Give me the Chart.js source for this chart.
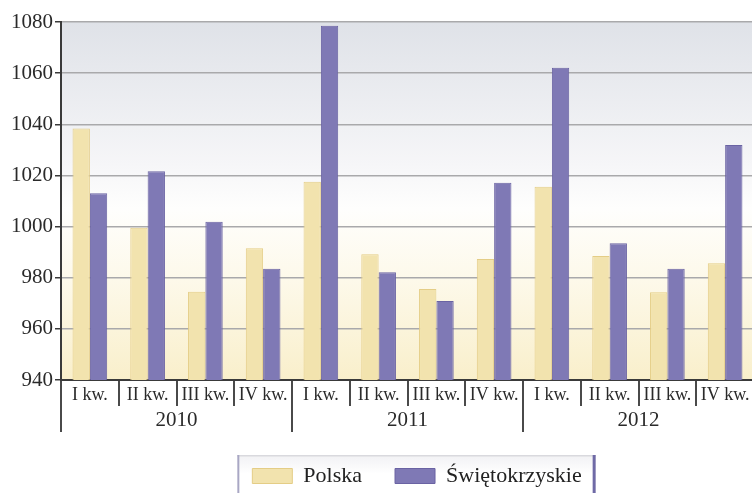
<!DOCTYPE html>
<html><head><meta charset="utf-8">
<script src="https://cdn.jsdelivr.net/npm/chart.js@4/dist/chart.umd.min.js"></script>
<style>
html,body{margin:0;padding:0;background:#fff;overflow:hidden;width:752px;height:493px;}
#wrap{position:relative;width:834px;height:497px;}
</style></head><body>
<div id="wrap"><canvas id="c" width="834" height="497"></canvas></div>
<script>
const quarters = ['I kw.','II kw.','III kw.','IV kw.','I kw.','II kw.','III kw.','IV kw.','I kw.','II kw.','III kw.','IV kw.'];
const years = ['2010','2011','2012'];
const polska = [1038.4, 999.5, 974.5, 991.5, 1017.5, 989.2, 975.6, 987.3, 1015.6, 988.5, 974.3, 985.7];
const swietokrzyskie = [1013.0, 1021.6, 1001.9, 983.5, 1078.5, 982.1, 970.9, 1017.1, 1062.1, 993.5, 983.5, 1031.9];
const yMin = 940, yMax = 1080, yStep = 20;

Chart.defaults.font.family = '"Liberation Serif", "Times New Roman", serif';
Chart.defaults.color = '#2a2a2a';

const bgPlugin = {
  id: 'bg',
  beforeDraw(chart) {
    const {ctx, chartArea: a} = chart;
    ctx.save();
    const g = ctx.createLinearGradient(0, a.top, 0, a.bottom);
    g.addColorStop(0, '#dfe2e8');
    g.addColorStop(0.4, '#f6f6f8');
    g.addColorStop(0.52, '#fefefd');
    g.addColorStop(0.72, '#fdf9ea');
    g.addColorStop(1, '#f9efcb');
    ctx.fillStyle = g;
    ctx.fillRect(a.left, a.top, a.right - a.left, a.bottom - a.top);
    const lg = chart.legend;
    if (lg && lg.legendHitBoxes && lg.legendHitBoxes.length) {
      const hb = lg.legendHitBoxes;
      const first = hb[0], last = hb[hb.length - 1];
      const x0 = first.left - 15, y0 = first.top - 10;
      const x1 = last.left + last.width + 14, y1 = chart.height + 5;
      const lgF = ctx.createLinearGradient(0, y0, 0, y1);
      lgF.addColorStop(0, '#f1f1f4');
      lgF.addColorStop(0.4, '#ffffff');
      lgF.addColorStop(1, '#ffffff');
      ctx.fillStyle = lgF;
      ctx.fillRect(x0, y0, x1 - x0, y1 - y0);
      ctx.fillStyle = '#d9d9de';
      ctx.fillRect(x0, y0, x1 - x0, 1.5);
      ctx.fillStyle = '#a9a7c4';
      ctx.fillRect(x0, y0, 2, y1 - y0);
      ctx.fillStyle = '#6f6aa6';
      ctx.fillRect(x1 - 3, y0, 3, y1 - y0);
    }
    ctx.restore();
  }
};

new Chart(document.getElementById('c'), {
  type: 'bar',
  data: {
    labels: quarters,
    datasets: [
      { label: 'Polska', data: polska, backgroundColor: '#f2e3ae', borderColor: '#e4cd86', borderWidth: 1,
        categoryPercentage: 0.6, barPercentage: 1.0, xAxisID: 'x', yAxisID: 'y' },
      { label: 'Świętokrzyskie', data: swietokrzyskie, backgroundColor: '#7f79b5', borderColor: '#6a63a3', borderWidth: 1,
        categoryPercentage: 0.6, barPercentage: 1.0, xAxisID: 'x', yAxisID: 'y' }
    ]
  },
  options: {
    responsive: false,
    animation: false,
    devicePixelRatio: 1,
    layout: { padding: { top: 22, left: 0, right: 0, bottom: 0 } },
    plugins: {
      tooltip: { enabled: false },
      legend: {
        position: 'bottom',
        align: 'center',
        labels: {
          boxWidth: 40, boxHeight: 15, padding: 33,
          font: { size: 22 }, color: '#222'
        }
      }
    },
    scales: {
      x: {
        type: 'category',
        position: 'bottom',
        weight: 0,
        offset: true,
        grid: { offset: true, drawOnChartArea: false, drawTicks: true, tickLength: 26, tickColor: '#4a4a4a', lineWidth: 2 },
        border: { display: true, color: '#3a3a3a', width: 2 },
        ticks: { font: { size: 18 }, color: '#2a2a2a', padding: -22, maxRotation: 0, autoSkip: false },
        afterFit: s => { s.height = 26; }
      },
      x2: {
        type: 'category',
        labels: years,
        position: 'bottom',
        weight: 1,
        offset: true,
        grid: { offset: true, drawOnChartArea: false, drawTicks: true, tickLength: 26, tickColor: '#4a4a4a', lineWidth: 2 },
        border: { display: false },
        ticks: { font: { size: 21 }, color: '#2a2a2a', padding: -24, maxRotation: 0, autoSkip: false },
        afterFit: s => { s.height = 26; }
      },
      y: {
        type: 'linear',
        position: 'left',
        min: yMin, max: yMax,
        ticks: { stepSize: yStep, font: { size: 21 }, color: '#2a2a2a', padding: 2,
                 callback: v => String(v) },
        grid: { color: '#a9a9ab', lineWidth: 1.5, tickColor: '#3a3a3a', tickLength: 6 },
        border: { display: true, color: '#3a3a3a', width: 2 },
        afterFit: s => { s.width = 61; }
      },
      yR: {
        type: 'linear',
        position: 'right',
        display: true,
        min: 0, max: 1,
        grid: { display: false, drawOnChartArea: false },
        border: { display: false },
        ticks: { display: false },
        afterFit: s => { s.width = 80; }
      }
    }
  },
  plugins: [bgPlugin]
});
</script>
</body></html>
